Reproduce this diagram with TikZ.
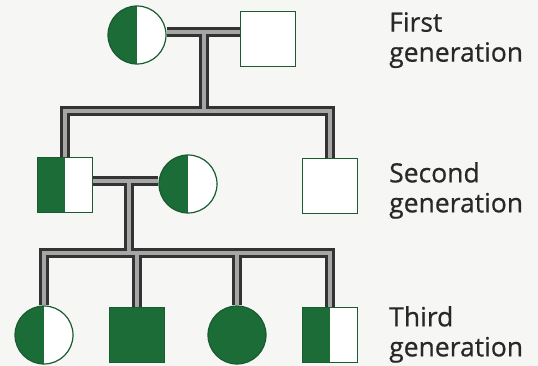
\documentclass[tikz,border=0pt]{standalone}
\usepackage{fontspec}
\setmainfont{Open Sans}
\newfontfamily\genfont{Open Sans}[FakeBold=0.6]
\usetikzlibrary{backgrounds}
\definecolor{pedgreen}{RGB}{28,108,56}
\definecolor{paper}{RGB}{246,247,244}
\definecolor{labelgray}{RGB}{40,40,40}

\tikzset{
    person/.style={draw=pedgreen!85!black, line width=1.2pt, fill=white, inner sep=0pt},
    male/.style={person, rectangle, minimum size=55pt},
    female/.style={person, circle, minimum size=58pt},
    half/.style={path picture={\fill[pedgreen] (path picture bounding box.south west) rectangle (path picture bounding box.north);}},
    full/.style={fill=pedgreen},
    linkouter/.style={line width=9.5pt, draw=black!80},
    linkinner/.style={line width=3.5pt, draw=black!35},
    gen/.style={anchor=north west, align=left, inner sep=0pt, font=\genfont\fontsize{26.5}{30}\selectfont, text=labelgray}
}

% all family lines, drawn once wide and dark, once thin and light
\newcommand{\links}[1]{
    \draw[#1] (c1.east |- m1) -- (s1.west |- m1);
    \draw[#1] (m1) -- (b1);
    \draw[#1] (s2.north) |- (b1) -| (s3.north);
    \draw[#1] (s2.east |- m2) -- (c2.west |- m2);
    \draw[#1] (m2) -- (b2);
    \draw[#1] (c3.north) |- (b2) -| (s5.north);
    \draw[#1] (s4.north) -- (s4.north |- b2);
    \draw[#1] (c4.north) -- (c4.north |- b2);
}

\begin{document}
\begin{tikzpicture}[x=1pt, y=-1pt]
    \useasboundingbox (0,0) rectangle (538,366);

    % first generation
    \node[female, half] (c1) at (137,35) {};
    \node[male] (s1) at (268,39) {};

    % second generation
    \node[male, half] (s2) at (65,185) {};
    \node[female, half] (c2) at (188,184) {};
    \node[male] (s3) at (330,186) {};

    % third generation
    \node[female, half] (c3) at (44,335) {};
    \node[male, full] (s4) at (137,335) {};
    \node[female, full] (c4) at (237,335) {};
    \node[male, half] (s5) at (330,335) {};

    \coordinate (m1) at (204,32);
    \coordinate (b1) at (204,111);
    \coordinate (m2) at (129,181);
    \coordinate (b2) at (129,253);

    \begin{pgfonlayer}{background}
        \fill[paper] (0,0) rectangle (538,366);
        \links{linkouter}
        \links{linkinner}
    \end{pgfonlayer}

    \node[gen] (g1) at (389,12) {First\\generation};
    \node[gen] (g2) at (389,162) {Second\\generation};
    \node[gen] (g3) at (389,306) {Third\\generation};
\end{tikzpicture}
\end{document}
